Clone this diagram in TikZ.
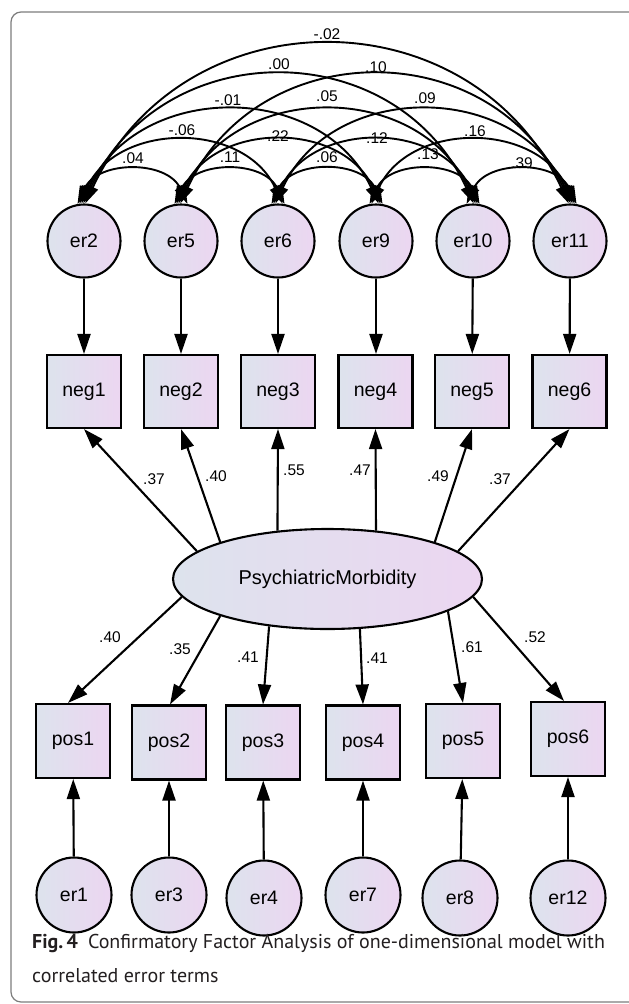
\documentclass[tikz,border=0pt]{standalone}
\usepackage{fontspec}
\setmainfont{Liberation Sans}
\newfontfamily\capfont{PT Sans}
\usetikzlibrary{arrows.meta,shapes.geometric}
\definecolor{cA}{RGB}{221,227,237}
\definecolor{cB}{RGB}{236,214,241}
\definecolor{framec}{RGB}{125,125,125}
\definecolor{capc}{RGB}{35,31,32}
\begin{document}
\begin{tikzpicture}[x=1pt,y=1pt,
  lat/.style={circle, draw, line width=2.1pt, left color=cA, right color=cB, minimum size=73pt, inner sep=0pt, font=\fontsize{19.5}{22}\selectfont},
  obs/.style={rectangle, draw, line width=2.1pt, left color=cA, right color=cB, minimum width=74pt, minimum height=73pt, inner sep=0pt, font=\fontsize{19.5}{22}\selectfont},
  fac/.style={ellipse, draw, line width=2.1pt, left color=cA, right color=cB, minimum width=309pt, minimum height=100pt, inner sep=0pt, font=\fontsize{20}{24}\selectfont},
  reg/.style={-{Triangle[length=20pt,width=13pt]}, line width=2.1pt},
  cov/.style={{Triangle[length=18pt,width=11pt]}-{Triangle[length=18pt,width=11pt]}, line width=1.9pt},
  num/.style={font=\fontsize{15.5}{18}\selectfont, inner sep=0pt},
  capl/.style={anchor=base west, inner sep=0pt, text=capc, font=\capfont\fontsize{20}{24}\selectfont}]
\useasboundingbox (0,0) rectangle (629,-1004);
\clip (0,0) rectangle (629,-1004);
\fill[white] (0,0) rectangle (629,-1004);
\draw[framec, line width=1.2pt, rounded corners=10pt] (11,-12) rectangle (645,-1002);

% top error terms
\node[lat] (er2)  at (84,-241)  {er2};
\node[lat] (er5)  at (181,-241) {er5};
\node[lat] (er6)  at (278,-241) {er6};
\node[lat] (er9)  at (376,-241) {er9};
\node[lat] (er10) at (473,-241) {er10};
\node[lat] (er11) at (570,-241) {er11};

% negative items
\node[obs] (neg1) at (84,-391.5)  {neg1};
\node[obs] (neg2) at (181,-391.5) {neg2};
\node[obs] (neg3) at (278,-391.5) {neg3};
\node[obs] (neg4) at (375.5,-391.5) {neg4};
\node[obs] (neg5) at (472,-391.5) {neg5};
\node[obs] (neg6) at (569.5,-391.5) {neg6};

% factor
\node[fac] (pm) at (327.5,-579) {PsychiatricMorbidity};

% positive items
\node[obs, minimum height=74pt] (pos1) at (73,-741)    {pos1};
\node[obs, minimum height=74pt] (pos2) at (169,-742.5) {pos2};
\node[obs, minimum height=74pt] (pos3) at (263,-742.5) {pos3};
\node[obs, minimum height=74pt] (pos4) at (363,-742.5) {pos4};
\node[obs, minimum height=74pt] (pos5) at (463,-741)   {pos5};
\node[obs, minimum height=74pt] (pos6) at (568,-739)   {pos6};

% bottom error terms
\node[lat, minimum size=75pt] (er1)  at (74,-895)  {er1};
\node[lat, minimum size=75pt] (er3)  at (169,-895) {er3};
\node[lat, minimum size=75pt] (er4)  at (264,-898) {er4};
\node[lat, minimum size=75pt] (er7)  at (363,-895) {er7};
\node[lat, minimum size=75pt] (er8)  at (460,-898) {er8};
\node[lat, minimum size=75pt] (er12) at (568,-898) {er12};

% error -> neg
\draw[reg] (er2) -- (neg1);
\draw[reg] (er5) -- (neg2);
\draw[reg] (er6) -- (neg3);
\draw[reg] (er9.south) -- (er9.south |- neg4.north);
\draw[reg] (er10) -- (neg5);
\draw[reg] (er11) -- (neg6);

% factor -> neg
\draw[reg] (pm.168) -- (neg1.south);
\draw[reg] (pm.161) -- (neg2.south);
\draw[reg] (pm.136) -- (neg3.south);
\draw[reg] (pm.45)  -- (neg4.south);
\draw[reg] (pm.19)  -- (neg5.south);
\draw[reg] (pm.12)  -- (neg6.south);

% factor -> pos
\draw[reg] (pm.187) -- ([xshift=-5pt]pos1.north);
\draw[reg] (pm.199) -- ([xshift=1pt]pos2.north);
\draw[reg] (pm.219) -- (pos3.north);
\draw[reg] (pm.303) -- (pos4.north);
\draw[reg] (pm.345) -- (pos5.north);
\draw[reg] (pm.353) -- ([xshift=-4pt]pos6.north);

% error -> pos
\draw[reg] (er1) -- (pos1);
\draw[reg] (er3) -- (pos2);
\draw[reg] (er4) -- (pos3);
\draw[reg] (er7) -- (pos4);
\draw[reg] (er8) -- (pos5);
\draw[reg] (er12) -- (pos6);

% covariances, distance 1
\draw[cov] (er2.100) to[out=65,in=115,looseness=1.13] (er5.80);
\draw[cov] (er5.100) to[out=65,in=115,looseness=1.13] (er6.80);
\draw[cov] (er6.100) to[out=65,in=115,looseness=1.13] (er9.80);
\draw[cov] (er9.100) to[out=65,in=115,looseness=1.13] (er10.80);
\draw[cov] (er10.100) to[out=65,in=115,looseness=1.13] (er11.80);
% distance 2
\draw[cov] (er2.97) to[out=65,in=115,looseness=1.15] (er6.83);
\draw[cov] (er5.97) to[out=65,in=115,looseness=1.15] (er9.83);
\draw[cov] (er6.97) to[out=65,in=115,looseness=1.15] (er10.83);
\draw[cov] (er9.97) to[out=65,in=115,looseness=1.15] (er11.83);
% distance 3
\draw[cov] (er2.94) to[out=65,in=115,looseness=1.17] (er9.86);
\draw[cov] (er5.94) to[out=65,in=115,looseness=1.17] (er10.86);
\draw[cov] (er6.94) to[out=65,in=115,looseness=1.17] (er11.86);
% distance 4
\draw[cov] (er2.91) to[out=65,in=115,looseness=1.23] (er10.89);
\draw[cov] (er5.91) to[out=65,in=115,looseness=1.23] (er11.89);
% distance 5
\draw[cov] (er2.88) to[out=65,in=115,looseness=1.23] (er11.92);

% covariance labels
\node[num] (c1) at (327,-34)  {-.02};
\node[num] (c2) at (279,-64)  {.00};
\node[num] (c3) at (376,-67)  {.10};
\node[num] (c4) at (228,-100) {-.01};
\node[num] (c5) at (327,-96)  {.05};
\node[num] (c6) at (425,-98)  {.09};
\node[num] (c7) at (182,-130) {-.06};
\node[num] (c8) at (278,-136) {.22};
\node[num] (c9) at (377,-138) {.12};
\node[num] (c10) at (475,-131) {.16};
\node[num] (c11) at (133,-158) {.04};
\node[num] (c12) at (230,-157) {.11};
\node[num] (c13) at (327,-157) {.06};
\node[num] (c14) at (428,-154) {.13};
\node[num] (c15) at (522,-163) {.39};

% loading labels
\node[num] (l1) at (154,-479) {.37};
\node[num] (l2) at (216,-476) {.40};
\node[num] (l3) at (294,-470) {.55};
\node[num] (l4) at (360,-470) {.47};
\node[num] (l5) at (438,-476) {.49};
\node[num] (l6) at (500,-479) {.37};
\node[num] (l7) at (110,-637) {.40};
\node[num] (l8) at (180,-649) {.35};
\node[num] (l9) at (248,-657) {.41};
\node[num] (l10) at (377,-658) {.41};
\node[num] (l11) at (472,-647) {.61};
\node[num] (l12) at (535,-637) {.52};

% caption
\node[capl] (cap1) at (32,-948) {\textbf{Fig.\,4}\hspace{10pt}Confirmatory Factor Analysis of one-dimensional model with};
\node[capl] (cap2) at (32,-982) {correlated error terms};
\end{tikzpicture}
\end{document}
